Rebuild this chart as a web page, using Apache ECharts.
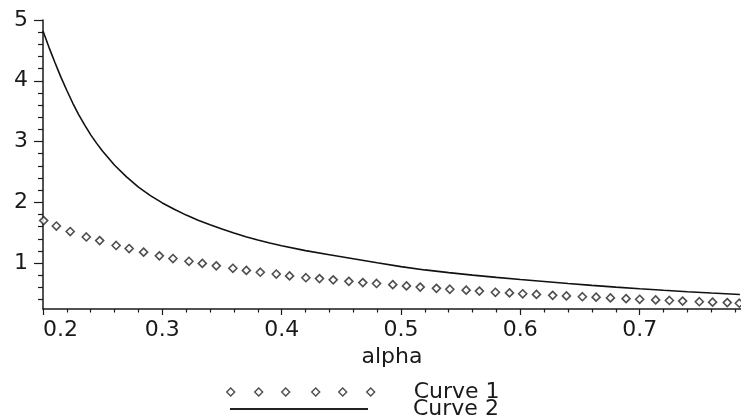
<!DOCTYPE html>
<html>
<head>
<meta charset="utf-8">
<script src="https://cdn.jsdelivr.net/npm/echarts@6/dist/echarts.min.js"></script>
<style>
  html, body { margin: 0; padding: 0; background: #fff; }
  #chart { width: 741px; height: 416px; }
</style>
</head>
<body>
<div id="chart"></div>
<script>
// Curve 1: sampled points (drawn as hollow diamonds)
const curve1Alpha = [
  0.2006, 0.2112, 0.2228, 0.2363, 0.2475, 0.2613, 0.2722, 0.2843, 0.2975, 0.3089,
  0.3223, 0.3335, 0.3452, 0.3591, 0.3704, 0.3821, 0.3955, 0.4066, 0.4203, 0.4317,
  0.4432, 0.4563, 0.4680, 0.4795, 0.4931, 0.5046, 0.5161, 0.5297, 0.5409, 0.5546,
  0.5657, 0.5791, 0.5909, 0.6020, 0.6135, 0.6271, 0.6386, 0.6520, 0.6635, 0.6755,
  0.6886, 0.7000, 0.7134, 0.7249, 0.7360, 0.7500, 0.7611, 0.7734, 0.7835
];
const curve1Values = [
  1.70, 1.61, 1.52, 1.43, 1.37, 1.29, 1.24, 1.18, 1.12, 1.075,
  1.03, 0.995, 0.955, 0.915, 0.88, 0.85, 0.82, 0.79, 0.76, 0.745,
  0.725, 0.70, 0.68, 0.665, 0.645, 0.625, 0.605, 0.585, 0.57, 0.555,
  0.54, 0.52, 0.51, 0.495, 0.485, 0.47, 0.46, 0.447, 0.44, 0.427,
  0.415, 0.405, 0.395, 0.385, 0.375, 0.365, 0.358, 0.35, 0.34
];

// Curve 2: solid line
const curve2Alpha = [
  0.200, 0.205, 0.210, 0.215, 0.220, 0.225, 0.230, 0.235, 0.240, 0.245,
  0.250, 0.260, 0.270, 0.280, 0.290, 0.300, 0.310, 0.320, 0.330, 0.340,
  0.350, 0.360, 0.370, 0.380, 0.390, 0.400, 0.420, 0.440, 0.460, 0.480,
  0.500, 0.520, 0.540, 0.560, 0.580, 0.600, 0.620, 0.640, 0.660, 0.680,
  0.700, 0.720, 0.740, 0.760, 0.784
];
const curve2Values = [
  4.82, 4.55, 4.30, 4.06, 3.84, 3.63, 3.44, 3.27, 3.11, 2.97,
  2.84, 2.61, 2.42, 2.25, 2.11, 1.99, 1.885, 1.79, 1.705, 1.63,
  1.56, 1.495, 1.435, 1.38, 1.33, 1.285, 1.205, 1.138, 1.072, 1.005,
  0.942, 0.888, 0.843, 0.803, 0.766, 0.731, 0.698, 0.665, 0.634, 0.605,
  0.578, 0.553, 0.53, 0.508, 0.484
];

// Axis ticks
const yMajorTicks = [1, 2, 3, 4, 5];
const yMinorTicks = [0.4, 0.6, 0.8, 1.2, 1.4, 1.6, 1.8, 2.2, 2.4, 2.6, 2.8,
                     3.2, 3.4, 3.6, 3.8, 4.2, 4.4, 4.6, 4.8];
const xAxisName = 'alpha';
const seriesNames = ['Curve 1', 'Curve 2'];

const FONT = 'DejaVu Sans';
const INK = '#1a1a1a';
const zip = (xs, ys) => xs.map((x, i) => [x, ys[i]]);

// legend swatch: a row of six small diamonds
const diamondRow = 'path://' + [4, 32, 59, 89, 116, 144]
  .map(c => `M${c} 0L${c + 4} 4L${c} 8L${c - 4} 4Z`).join('');

const tickStyle = { color: INK, width: 1.2 };
const labelFont = { fontFamily: FONT, fontSize: 22, color: INK };

const chart = echarts.init(document.getElementById('chart'), null, { renderer: 'canvas' });
chart.setOption({
  animation: false,
  backgroundColor: '#fff',
  grid: { left: 43, right: -18, top: 20, bottom: 107, containLabel: false, outerBoundsMode: 'none' },
  xAxis: {
    type: 'value',
    min: 0.2,
    max: 0.8,
    interval: 0.1,
    name: xAxisName,
    nameLocation: 'middle',
    nameGap: 36,
    nameTextStyle: Object.assign({}, labelFont, { padding: [0, 18, 0, 0] }),
    axisLine: { show: true, onZero: false, lineStyle: { color: INK, width: 1.5 } },
    axisTick: { show: true, length: 6, lineStyle: tickStyle },
    minorTick: { show: true, splitNumber: 5, length: 3.5, lineStyle: tickStyle },
    axisLabel: Object.assign({ margin: 10, alignMinLabel: 'left', showMaxLabel: false }, labelFont),
    splitLine: { show: false },
    minorSplitLine: { show: false }
  },
  yAxis: [
    {
      type: 'value',
      min: 0.245,
      max: 5,
      position: 'left',
      axisLine: { show: true, onZero: false, lineStyle: { color: INK, width: 1.5 } },
      axisTick: { show: true, length: 9, customValues: yMajorTicks, lineStyle: tickStyle },
      axisLabel: Object.assign({ margin: 15, customValues: yMajorTicks }, labelFont),
      splitLine: { show: false }
    },
    {
      type: 'value',
      min: 0.245,
      max: 5,
      position: 'left',
      offset: 0,
      axisLine: { show: false },
      axisTick: { show: true, length: 5, customValues: yMinorTicks, lineStyle: tickStyle },
      axisLabel: { show: false },
      splitLine: { show: false }
    }
  ],
  legend: [
    {
      data: [{
        name: seriesNames[0],
        icon: diamondRow,
        itemStyle: { color: '#fff', borderColor: '#222', borderWidth: 1.4 }
      }],
      left: 226, top: 381, padding: 0, orient: 'vertical',
      itemWidth: 148, itemHeight: 8, symbolKeepAspect: false, selectedMode: false,
      textStyle: Object.assign({ lineHeight: 22, padding: [0, 0, 0, 34] }, labelFont)
    },
    {
      data: [{
        name: seriesNames[1],
        icon: 'path://M0 0L138 0L138 2L0 2Z',
        itemStyle: { color: '#222', borderWidth: 0 }
      }],
      left: 230, top: 398, padding: 0, orient: 'vertical',
      itemWidth: 138, itemHeight: 2, symbolKeepAspect: false, selectedMode: false,
      textStyle: Object.assign({ lineHeight: 22, padding: [0, 0, 0, 40] }, labelFont)
    }
  ],
  series: [
    {
      name: seriesNames[0],
      type: 'scatter',
      yAxisIndex: 0,
      data: zip(curve1Alpha, curve1Values),
      symbol: 'diamond',
      symbolSize: 8,
      itemStyle: { color: '#fff', borderColor: '#222', borderWidth: 1.6 },
      z: 3
    },
    {
      name: seriesNames[1],
      type: 'line',
      yAxisIndex: 0,
      data: zip(curve2Alpha, curve2Values),
      showSymbol: false,
      smooth: false,
      lineStyle: { color: '#111', width: 1.6 }
    }
  ]
});
</script>
</body>
</html>
